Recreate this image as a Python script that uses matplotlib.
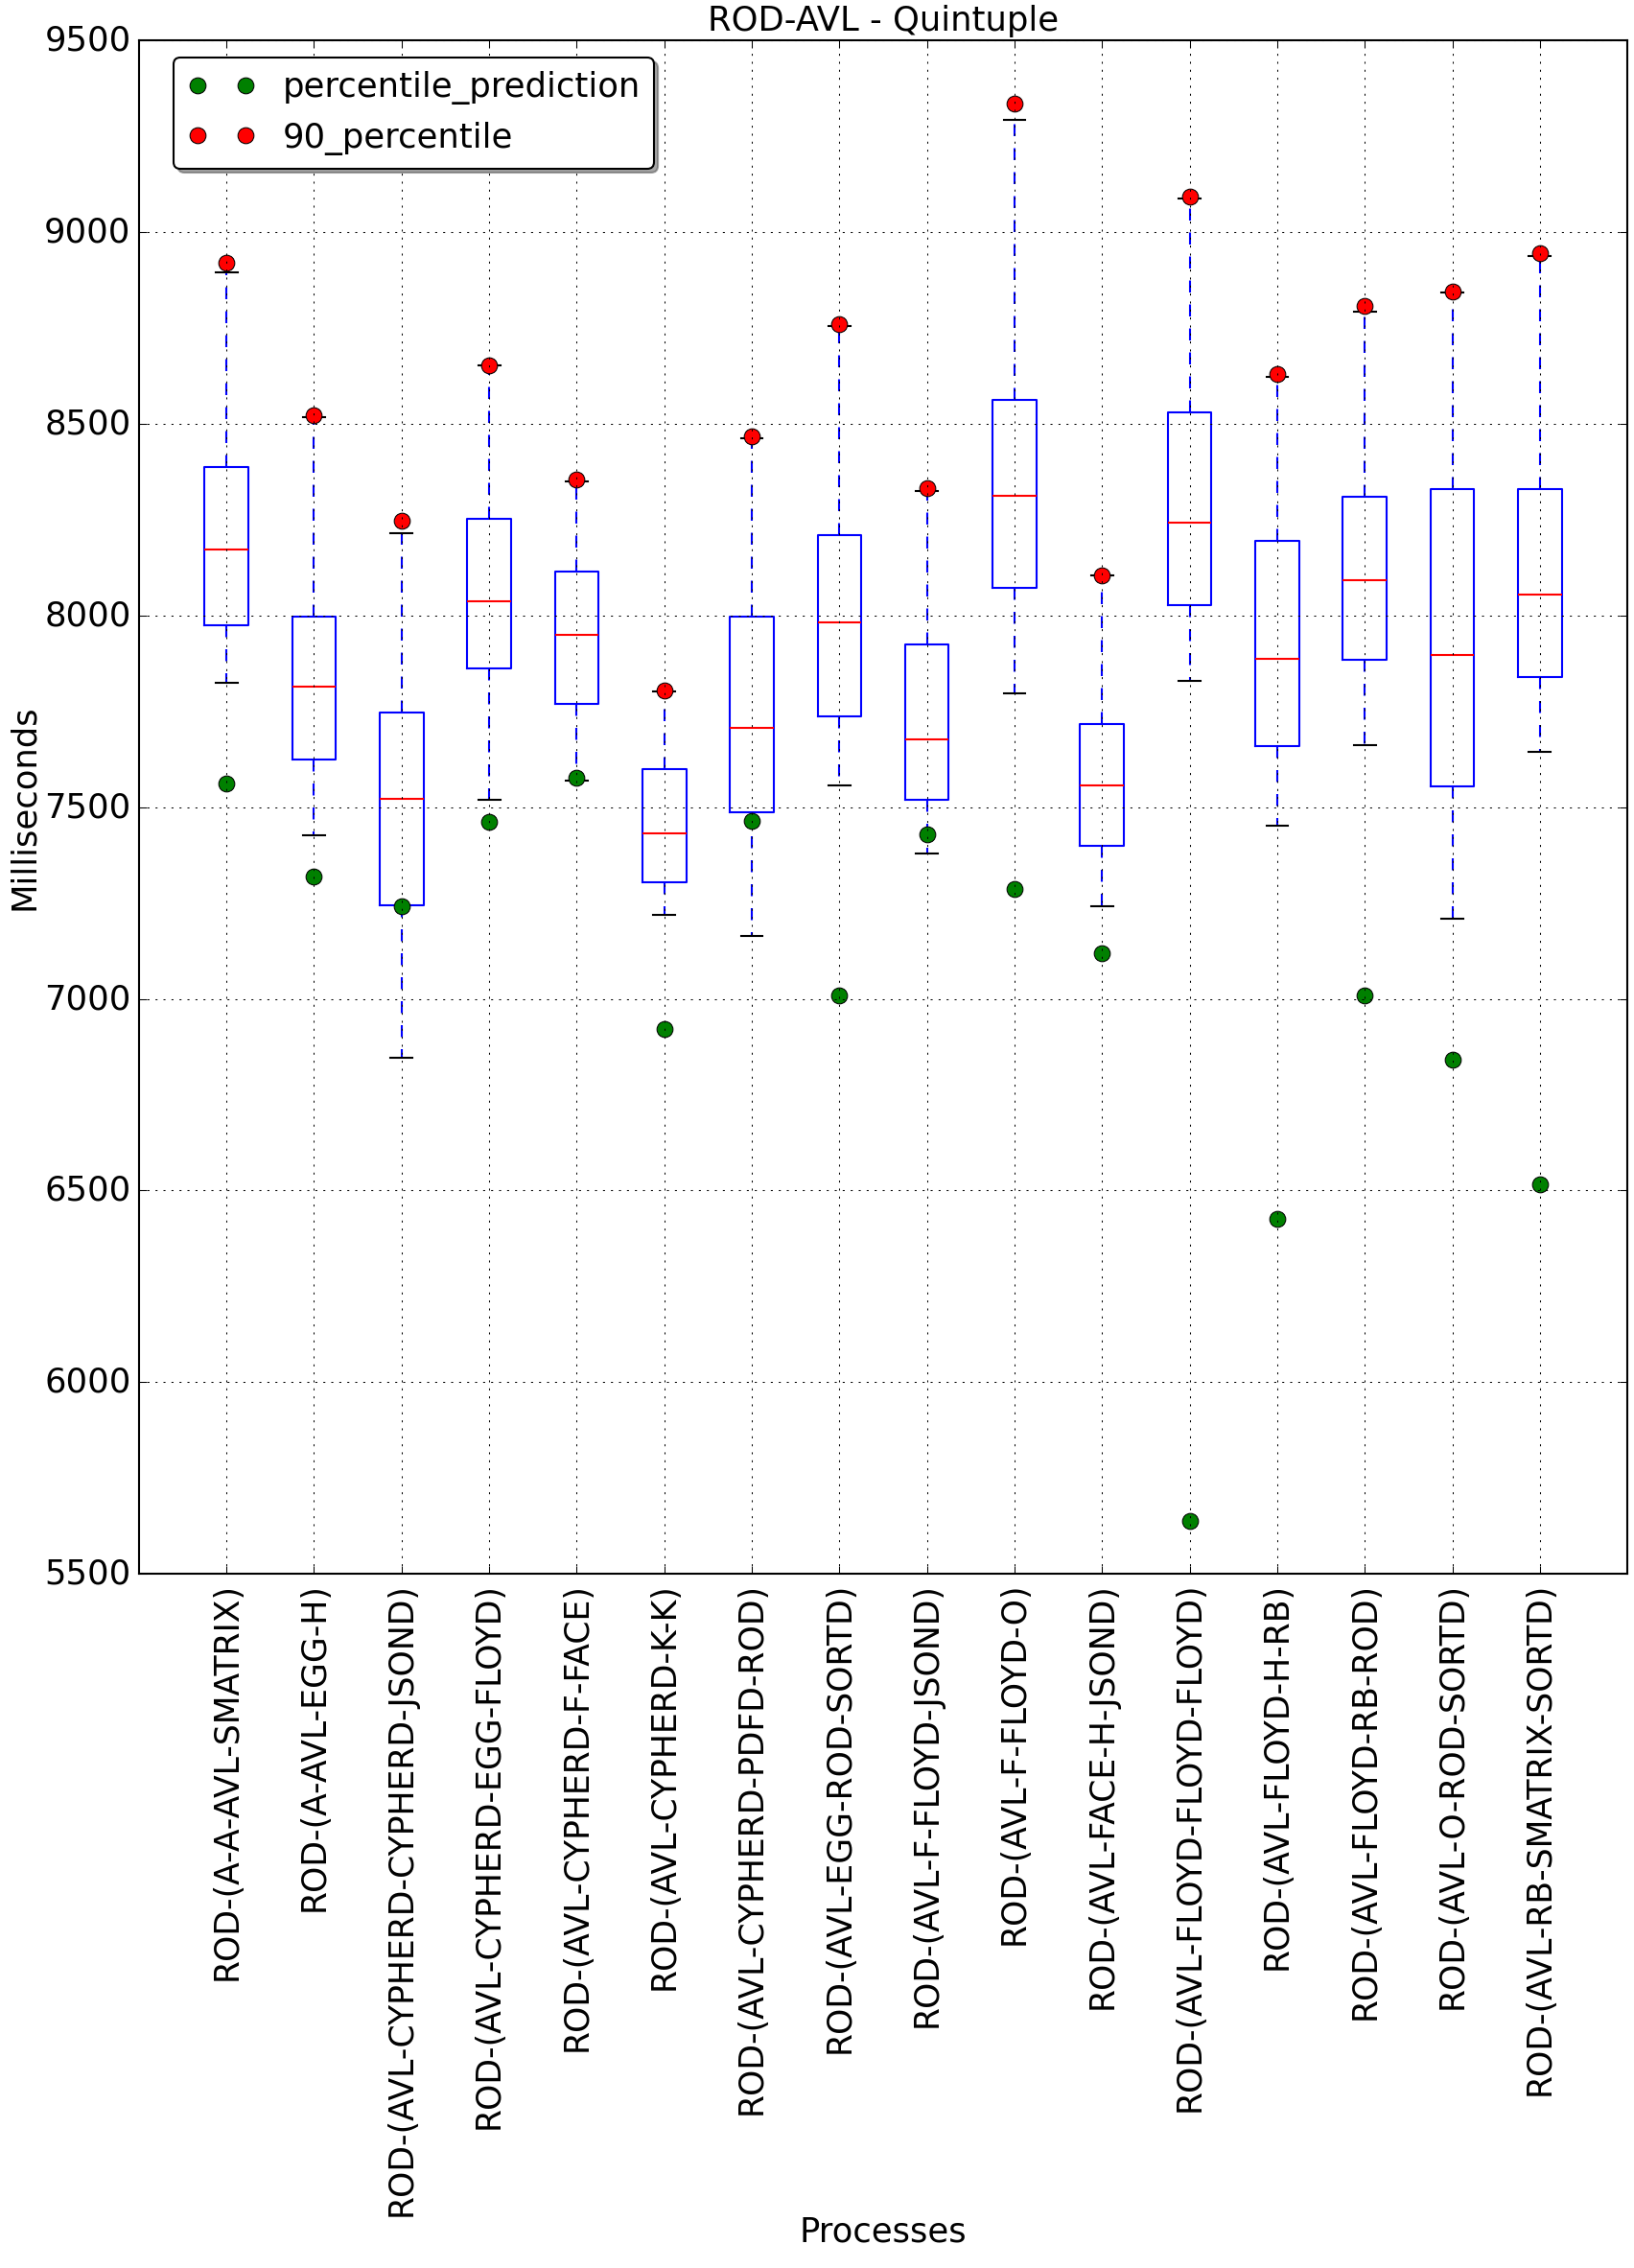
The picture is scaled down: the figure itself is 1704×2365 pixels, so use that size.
import matplotlib
matplotlib.use('Agg')
import matplotlib.pyplot as plt

plt.style.use('classic')

processes = ['ROD-(A-A-AVL-SMATRIX)', 'ROD-(A-AVL-EGG-H)', 'ROD-(AVL-CYPHERD-CYPHERD-JSOND)',
             'ROD-(AVL-CYPHERD-EGG-FLOYD)', 'ROD-(AVL-CYPHERD-F-FACE)', 'ROD-(AVL-CYPHERD-K-K)',
             'ROD-(AVL-CYPHERD-PDFD-ROD)', 'ROD-(AVL-EGG-ROD-SORTD)', 'ROD-(AVL-F-FLOYD-JSOND)',
             'ROD-(AVL-F-FLOYD-O)', 'ROD-(AVL-FACE-H-JSOND)', 'ROD-(AVL-FLOYD-FLOYD-FLOYD)',
             'ROD-(AVL-FLOYD-H-RB)', 'ROD-(AVL-FLOYD-RB-ROD)', 'ROD-(AVL-O-ROD-SORTD)',
             'ROD-(AVL-RB-SMATRIX-SORTD)']

# estatisticas das caixas
whislo = [7824, 7426, 6845, 7518, 7570, 7218, 7164, 7557, 7380, 7796, 7241, 7829, 7451, 7662, 7208, 7644]
q1 = [7975, 7624, 7243, 7862, 7770, 7303, 7487, 7737, 7518, 8073, 7398, 8027, 7660, 7885, 7554, 7839]
med = [8173, 7814, 7521, 8037, 7950, 7431, 7706, 7983, 7677, 8312, 7557, 8242, 7888, 8091, 7898, 8055]
q3 = [8386, 7998, 7747, 8253, 8114, 7600, 7996, 8209, 7924, 8563, 7716, 8530, 8194, 8309, 8330, 8330]
whishi = [8895, 8517, 8214, 8651, 8350, 7801, 8463, 8756, 8325, 9293, 8104, 9087, 8622, 8792, 8843, 8938]

percentile_90 = [8920, 8522, 8248, 8651, 8355, 7803, 8468, 8759, 8332, 9334, 8104, 9092, 8630, 8807, 8846, 8944]
prediction = [7562, 7320, 7241, 7462, 7577, 6920, 7464, 7010, 7428, 7287, 7118, 5639, 6427, 7010, 6840, 6517]

stats = []
for i in range(len(processes)):
    stats.append({'whislo': whislo[i], 'q1': q1[i], 'med': med[i], 'q3': q3[i],
                  'whishi': whishi[i], 'fliers': [], 'label': processes[i]})

posicoes = list(range(1, len(processes) + 1))

fig = plt.figure(figsize=(11.36, 15.77), dpi=150, facecolor='white')
ax = fig.add_subplot(111)
fig.subplots_adjust(left=0.085, right=0.996, top=0.982, bottom=0.306)

ax.bxp(stats, positions=posicoes, widths=0.5,
       boxprops=dict(color='b'), whiskerprops=dict(color='b', linestyle='--'),
       capprops=dict(color='k'), medianprops=dict(color='r'))

ax.plot(posicoes, prediction, 'go', markersize=8, label='percentile_prediction')
ax.plot(posicoes, percentile_90, 'ro', markersize=8, label='90_percentile')

ax.set_xlim(0, 17)
ax.set_ylim(5500, 9500)
ax.set_yticks(range(5500, 9501, 500))
ax.set_xticks(posicoes)
ax.set_xticklabels(processes, rotation=90, fontsize=16.6)
ax.tick_params(axis='y', labelsize=17)
ax.set_title('ROD-AVL - Quintuple', fontsize=17)
ax.set_xlabel('Processes', fontsize=17, labelpad=0)
ax.set_ylabel('Milliseconds', fontsize=17, labelpad=2)
ax.grid(True)
ax.legend(loc='upper left', bbox_to_anchor=(0.012, 1.0), numpoints=2, fancybox=True,
          shadow=True, fontsize=17)

fig.savefig('out.png', dpi=150, facecolor='white')
